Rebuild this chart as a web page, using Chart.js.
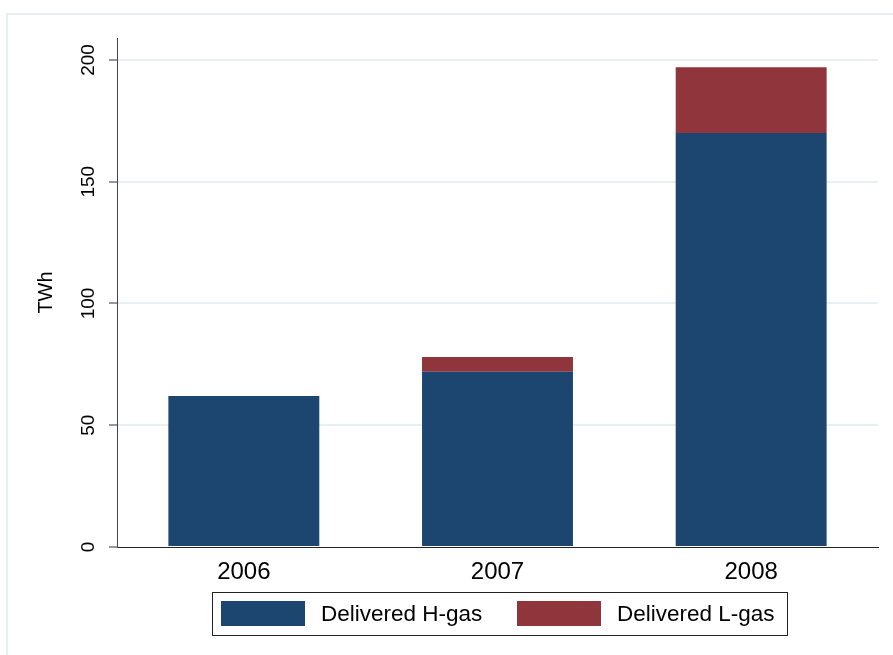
<!DOCTYPE html>
<html>
<head>
<meta charset="utf-8">
<script src="https://cdn.jsdelivr.net/npm/chart.js@4"></script>
<style>
  html, body { margin: 0; padding: 0; background: #ffffff; }
  canvas { display: block; }
</style>
</head>
<body>
<canvas id="c" width="893" height="655"></canvas>
<script>
const categories = ['2006', '2007', '2008'];
const hGas = [62, 72, 170];
const lGas = [null, 6, 27];
const yTicks = [0, 50, 100, 150, 200];
const seriesNames = ['Delivered H-gas', 'Delivered L-gas'];
const seriesColors = ['#1c466f', '#90353b'];
const yTitle = 'TWh';

const FONT = '"Liberation Sans", Arial, Helvetica, sans-serif';

const decor = {
  id: 'decor',
  beforeDraw(chart) {
    const ctx = chart.ctx;
    ctx.save();
    ctx.strokeStyle = '#e6eef1';
    ctx.lineWidth = 2;
    ctx.beginPath();
    ctx.moveTo(7, 700);
    ctx.lineTo(7, 14);
    ctx.lineTo(900, 14);
    ctx.stroke();
    ctx.restore();
  },
  afterDraw(chart) {
    const ctx = chart.ctx;
    const x = chart.scales.x;
    const y = chart.scales.y;
    const area = chart.chartArea;
    ctx.save();
    ctx.fillStyle = '#000000';
    // x tick labels
    ctx.font = '24px ' + FONT;
    ctx.textAlign = 'center';
    ctx.textBaseline = 'alphabetic';
    x.ticks.forEach((t, i) => {
      ctx.fillText(chart.data.labels[i], x.getPixelForTick(i), 579);
    });
    // y tick labels, rotated
    ctx.font = '19px ' + FONT;
    y.ticks.forEach(t => {
      const py = y.getPixelForValue(t.value);
      ctx.save();
      ctx.translate(94, py);
      ctx.rotate(-Math.PI / 2);
      ctx.fillText(String(t.value), 0, 0);
      ctx.restore();
    });
    // y title
    ctx.font = '20px ' + FONT;
    ctx.save();
    ctx.translate(52, (area.top + area.bottom) / 2);
    ctx.rotate(-Math.PI / 2);
    ctx.fillText(yTitle, 0, 0);
    ctx.restore();

    // legend
    const bx = 212, by = 592, bw = 575, bh = 43;
    ctx.strokeStyle = '#222222';
    ctx.lineWidth = 1;
    ctx.fillStyle = '#ffffff';
    ctx.fillRect(bx, by, bw, bh);
    ctx.strokeRect(bx + 0.5, by + 0.5, bw, bh);
    const cy = by + bh / 2;
    const swX = [221, 517];
    const txX = [321, 617];
    ctx.font = '22.5px ' + FONT;
    ctx.textAlign = 'left';
    ctx.textBaseline = 'middle';
    chart.data.datasets.forEach((ds, i) => {
      ctx.fillStyle = ds.backgroundColor;
      ctx.fillRect(swX[i], cy - 12.5, 84, 25);
      ctx.fillStyle = '#000000';
      ctx.fillText(ds.label, txX[i], cy + 1);
    });
    ctx.restore();
  }
};

new Chart(document.getElementById('c'), {
  type: 'bar',
  data: {
    labels: categories,
    datasets: [
      { label: seriesNames[0], data: hGas, backgroundColor: seriesColors[0], borderWidth: 0 },
      { label: seriesNames[1], data: lGas, backgroundColor: seriesColors[1], borderWidth: 0 }
    ]
  },
  options: {
    responsive: false,
    animation: false,
    devicePixelRatio: 1,
    layout: { padding: { left: 117, right: 15, top: 38, bottom: 108 } },
    plugins: { legend: { display: false }, tooltip: { enabled: false }, title: { display: false } },
    datasets: { bar: { categoryPercentage: 1, barPercentage: 0.595 } },
    scales: {
      x: {
        stacked: true,
        grid: { display: false, drawTicks: false },
        border: { display: true, color: '#222222', width: 1 },
        ticks: { display: false },
        afterFit(scale) { scale.height = 0; }
      },
      y: {
        stacked: true,
        min: 0,
        max: 209,
        afterBuildTicks(scale) { scale.ticks = yTicks.map(v => ({ value: v })); },
        grid: {
          color: ctx => (ctx.tick && ctx.tick.value === 0) ? 'rgba(0,0,0,0)' : '#e8f0f2',
          lineWidth: 2,
          drawTicks: true,
          tickLength: 8,
          tickColor: '#333333',
          tickWidth: 1
        },
        border: { display: true, color: '#444444', width: 1 },
        ticks: { display: false },
        afterFit(scale) { scale.width = 0; }
      }
    }
  },
  plugins: [decor]
});
</script>
</body>
</html>
